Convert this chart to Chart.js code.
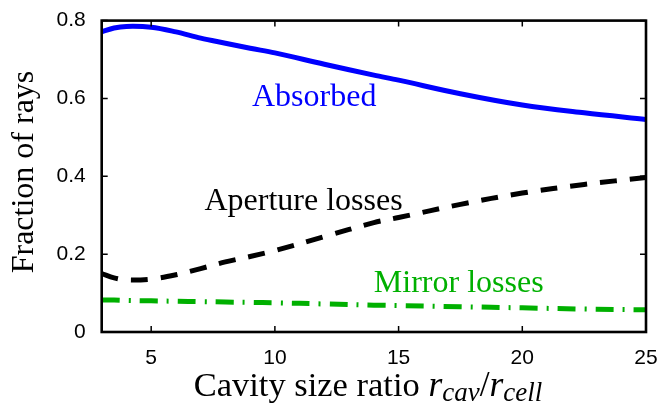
<!DOCTYPE html>
<html>
<head>
<meta charset="utf-8">
<script src="https://cdn.jsdelivr.net/npm/chart.js@4/dist/chart.umd.min.js"></script>
<style>
  body { margin: 0; background: #fff; }
  #wrap { width: 672px; height: 412px; }
</style>
</head>
<body>
<div id="wrap"><canvas id="chart" width="672" height="412"></canvas></div>
<script>
// values
const xValues = [3, 3.5, 4, 5, 6, 7, 8, 9, 10, 12, 14, 15, 17.5, 20, 22.5, 25];
const absorbed = [0.771, 0.781, 0.785, 0.783, 0.771, 0.755, 0.742, 0.729, 0.717, 0.688, 0.660, 0.647, 0.612, 0.583, 0.563, 0.546];
const apertureLosses = [0.150, 0.139, 0.134, 0.136, 0.147, 0.163, 0.180, 0.194, 0.209, 0.245, 0.281, 0.294, 0.328, 0.357, 0.379, 0.397];
const mirrorLosses = [0.082, 0.082, 0.081, 0.080, 0.079, 0.078, 0.077, 0.076, 0.075, 0.072, 0.069, 0.068, 0.065, 0.062, 0.059, 0.057];

const xTicks = [5, 10, 15, 20, 25];
const yTicks = [0, 0.2, 0.4, 0.6, 0.8];
const yTickLabels = ["0", "0.2", "0.4", "0.6", "0.8"];

const seriesNames = ["Absorbed", "Aperture losses", "Mirror losses"];
const seriesColors = ["#0000ff", "#000000", "#00b000"];

// in-plot labels, anchored in data units
const labelX = [11.59, 11.16, 17.43];
const labelY = [0.580, 0.313, 0.104];

const serif = "'Liberation Serif', 'Times New Roman', serif";

const toPoints = (ys) => xValues.map((x, i) => ({ x: x, y: ys[i] }));

const decorPlugin = {
  id: "decor",
  afterDatasetsDraw(chart) {
    const { ctx, chartArea: a, scales } = chart;
    const xs = scales.x, ys = scales.y;
    ctx.save();

    // box with inward ticks on all sides
    ctx.strokeStyle = "#000";
    ctx.lineWidth = 1.5;
    ctx.beginPath();
    xTicks.forEach((v) => {
      const px = xs.getPixelForValue(v);
      ctx.moveTo(px, a.bottom); ctx.lineTo(px, a.bottom - 6);
      ctx.moveTo(px, a.top); ctx.lineTo(px, a.top + 6);
    });
    yTicks.forEach((v) => {
      const py = ys.getPixelForValue(v);
      ctx.moveTo(a.left, py); ctx.lineTo(a.left + 6, py);
      ctx.moveTo(a.right, py); ctx.lineTo(a.right - 6, py);
    });
    ctx.stroke();
    ctx.lineWidth = 2.6;
    ctx.strokeRect(a.left, a.top, a.right - a.left, a.bottom - a.top);

    // series labels
    ctx.font = "32px " + serif;
    ctx.textAlign = "center";
    ctx.textBaseline = "alphabetic";
    seriesNames.forEach((name, i) => {
      ctx.fillStyle = seriesColors[i];
      ctx.fillText(name, xs.getPixelForValue(labelX[i]), ys.getPixelForValue(labelY[i]));
    });

    // y axis title
    ctx.fillStyle = "#000";
    ctx.save();
    ctx.translate(33, 172);
    ctx.rotate(-Math.PI / 2);
    ctx.fillText("Fraction of rays", 0, 0);
    ctx.restore();

    // x axis title with math part
    const parts = [
      { t: "Cavity size ratio ", f: "34.5px " + serif, dy: 0 },
      { t: "r", f: "italic 35.5px " + serif, dy: 0 },
      { t: "cav", f: "italic 27px " + serif, dy: 5 },
      { t: "/", f: "35.5px " + serif, dy: 0 },
      { t: "r", f: "italic 35.5px " + serif, dy: 0 },
      { t: "cell", f: "italic 27px " + serif, dy: 5 },
    ];
    let total = 0;
    parts.forEach((p) => { ctx.font = p.f; p.w = ctx.measureText(p.t).width; total += p.w; });
    let cx = 368 - total / 2;
    ctx.textAlign = "left";
    parts.forEach((p) => {
      ctx.font = p.f;
      ctx.fillText(p.t, cx, 396 + p.dy);
      cx += p.w;
    });

    ctx.restore();
  },
};

new Chart(document.getElementById("chart"), {
  type: "line",
  data: {
    datasets: [
      {
        label: seriesNames[0],
        data: toPoints(absorbed),
        borderColor: seriesColors[0],
        borderWidth: 5,
        pointRadius: 0,
        tension: 0.35,
      },
      {
        label: seriesNames[1],
        data: toPoints(apertureLosses),
        borderColor: seriesColors[1],
        borderWidth: 5,
        borderDash: [17, 13],
        pointRadius: 0,
        tension: 0.35,
      },
      {
        label: seriesNames[2],
        data: toPoints(mirrorLosses),
        borderColor: seriesColors[2],
        borderWidth: 5,
        borderDash: [18, 9, 2, 9],
        pointRadius: 0,
        tension: 0.35,
      },
    ],
  },
  options: {
    responsive: false,
    animation: false,
    layout: { padding: { top: 10, right: 26, left: 0, bottom: 0 } },
    scales: {
      x: {
        type: "linear",
        min: 3,
        max: 25,
        afterBuildTicks: (s) => { s.ticks = xTicks.map((v) => ({ value: v })); },
        afterFit: (s) => { s.height = 80; },
        grid: { display: false },
        border: { display: false },
        ticks: {
          color: "#000",
          padding: 6,
          maxRotation: 0,
          font: { family: "'Liberation Sans', Arial, sans-serif", size: 21 },
        },
      },
      y: {
        min: 0,
        max: 0.8,
        afterBuildTicks: (s) => { s.ticks = yTicks.map((v) => ({ value: v })); },
        afterFit: (s) => { s.width = 101.7; },
        grid: { display: false },
        border: { display: false },
        ticks: {
          color: "#000",
          padding: 8,
          callback: (v) => yTickLabels[yTicks.indexOf(v)],
          font: { family: "'Liberation Sans', Arial, sans-serif", size: 21 },
        },
      },
    },
    plugins: {
      legend: { display: false },
      tooltip: { enabled: false },
    },
  },
  plugins: [decorPlugin],
});
</script>
</body>
</html>
